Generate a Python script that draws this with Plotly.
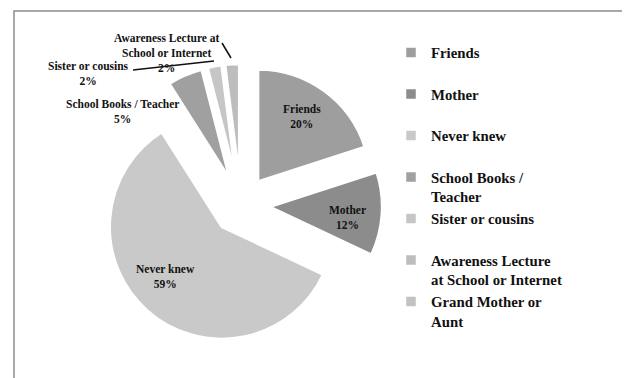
import plotly.graph_objects as go

# ---- data ----
categories = ["Friends", "Mother", "Never knew", "School Books / Teacher",
              "Sister or cousins", "Awareness Lecture at School or Internet",
              "Grand Mother or Aunt"]
values = [20, 12, 59, 5, 2, 2, 0]
legend_text = ["Friends<br> ", "Mother<br> ", "Never knew<br> ",
               "School Books /<br>Teacher", "Sister or cousins<br> ",
               "Awareness Lecture<br>at School or Internet", "Grand Mother or<br>Aunt"]
slice_text = ["Friends", "Mother", "Never knew", "School Books / Teacher",
              "Sister or cousins", "Awareness Lecture at<br>School or Internet",
              "Grand Mother or Aunt"]

colors = ["#9e9e9e", "#8c8c8c", "#c9c9c9", "#a0a0a0", "#c6c6c6", "#bdbdbd", "#c2c2c2"]
W, H = 630, 378
OFF = 8  # page body margin offset
FONT = "Liberation Serif"


def fx(px):
    return (px - OFF) / W


def fy(py):
    return 1 - (py - OFF) / H


# pie geometry (page pixels)
CX, CY, R, PULL = 241, 205, 112, 0.26
HALF = R * (1 + PULL)

fig = go.Figure(go.Pie(
    labels=legend_text,
    values=values,
    textinfo="none",
    marker=dict(colors=colors, line=dict(width=2.5, color="white")),
    pull=[PULL] * len(values),
    sort=False,
    direction="clockwise",
    rotation=0,
    domain=dict(x=[fx(CX - HALF), fx(CX + HALF)], y=[fy(CY + HALF), fy(CY - HALF)]),
    hoverinfo="skip",
))

# data labels (page pixel centres)
label_pos = {0: (302, 116.5), 1: (347, 217.5), 2: (165, 276),
             3: (122, 111.5), 4: (89, 73), 5: (167, 53)}
annotations = []
for i, (px, py) in label_pos.items():
    annotations.append(dict(
        x=fx(px), y=fy(py), xref="paper", yref="paper",
        text=f"{slice_text[i]}<br>{values[i]}%", showarrow=False,
        font=dict(family=FONT, size=11.5, color="#111", weight="bold"),
        xanchor="center", yanchor="middle", align="center"))


def line(x0, y0, x1, y1, w=1.5, c="#111"):
    return dict(type="line", xref="paper", yref="paper",
                x0=fx(x0), y0=fy(y0), x1=fx(x1), y1=fy(y1),
                line=dict(color=c, width=w))


shapes = [
    dict(type="rect", xref="paper", yref="paper", x0=fx(14), x1=fx(628),
         y0=-0.1, y1=fy(11), line=dict(color="#8c8c8c", width=1.5)),
    line(222, 43, 231, 58),
    line(133, 70, 214, 61),
]

fig.update_layout(
    width=W, height=H,
    margin=dict(l=0, r=0, t=0, b=0),
    paper_bgcolor="white", plot_bgcolor="white",
    showlegend=True,
    legend=dict(x=fx(391), y=fy(36.5), xanchor="left", yanchor="top",
                valign="top", traceorder="normal",
                font=dict(family=FONT, size=14.8, color="#111", weight="bold"),
                bgcolor="rgba(0,0,0,0)"),
    annotations=annotations,
    shapes=shapes,
)

fig.write_html("out.html")
